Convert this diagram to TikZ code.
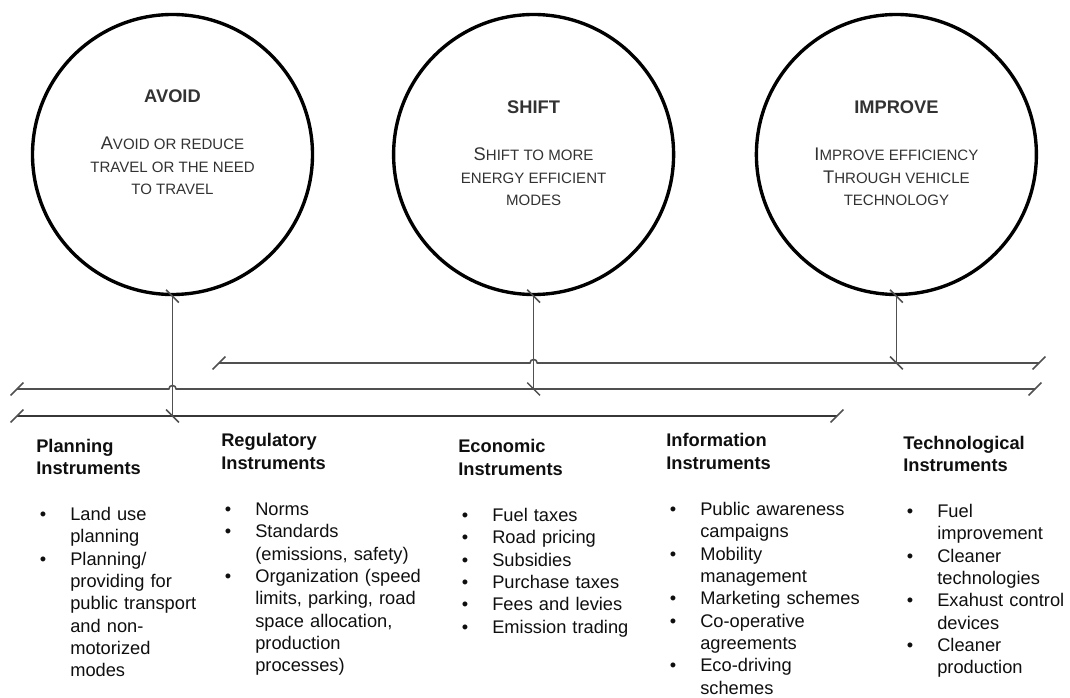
\documentclass[tikz,border=0pt]{standalone}
\usepackage{fontspec}
\setmainfont{Liberation Sans}
\definecolor{RingColor}{RGB}{0,0,0}
\definecolor{RailColor}{RGB}{80,80,80}
\definecolor{RailDark}{RGB}{55,55,55}
\definecolor{GoalText}{RGB}{50,50,50}
\definecolor{ListText}{RGB}{15,15,15}
\usetikzlibrary{positioning, calc, decorations.markings}
\newcommand{\scap}[1]{{\fontsize{10.7}{16}\selectfont #1}}
\newcommand{\colhead}[2]{\textbf{#1}\\\textbf{#2}\par\vspace{0.59cm}}
\newenvironment{bullets}{\begin{list}{\textbullet}{\setlength{\leftmargin}{0.85cm}\setlength{\labelwidth}{0.76cm}\setlength{\labelsep}{0cm}\setlength{\itemsep}{0pt}\setlength{\parsep}{0pt}\setlength{\topsep}{0pt}\setlength{\partopsep}{0pt}\renewcommand{\makelabel}[1]{##1\hfil}}}{\end{list}}
\tikzstyle{goal} = [circle, draw=RingColor, line width=2.4pt, minimum size=7cm, inner sep=0pt]
\tikzstyle{goaltext} = [align=center, inner sep=0pt, text=GoalText, font=\fontsize{13}{16}\selectfont]
\tikzstyle{tick} = [RailColor, line width=1.1pt]
\tikzstyle{rail} = [draw=RailColor, line width=1.1pt, postaction={decorate}, decoration={markings, mark=at position 0 with {\draw[tick] (-0.16,-0.16) -- (0.16,0.16);}, mark=at position 1 with {\draw[tick] (-0.16,-0.16) -- (0.16,0.16);}}]
\tikzstyle{column} = [anchor=base west, align=left, inner sep=0pt, text=ListText, font=\fontsize{13}{15.9}\selectfont]

\begin{document}
\begin{tikzpicture}
                \useasboundingbox (0,0) rectangle (26.75,17.425);

                % Circles
                \node[goal] (avoid) at (4.3125,13.5625) {};
                \node[goal] (shift) at (13.34,13.5625) {};
                \node[goal] (improve) at (22.41,13.5625) {};

                \node[goaltext] (avoidtxt) at (4.3125,13.86) {\textbf{AVOID}\\[0.61cm]
                    A\scap{VOID OR REDUCE}\\\scap{TRAVEL OR THE NEED}\\\scap{TO TRAVEL}};
                \node[goaltext] (shifttxt) at (13.34,13.59) {\textbf{SHIFT}\\[0.61cm]
                    S\scap{HIFT TO MORE}\\\scap{ENERGY EFFICIENT}\\\scap{MODES}};
                \node[goaltext] (improvetxt) at (22.41,13.59) {\textbf{IMPROVE}\\[0.61cm]
                    I\scap{MPROVE EFFICIENCY}\\T\scap{HROUGH VEHICLE}\\\scap{TECHNOLOGY}};

                % Rails
                \coordinate (railAwest) at (5.475,8.35);
                \coordinate (railAeast) at (25.975,8.35);
                \coordinate (railBwest) at (0.425,7.7);
                \coordinate (railBeast) at (25.875,7.7);
                \coordinate (railCwest) at (0.425,7.025);
                \coordinate (railCeast) at (20.925,7.025);

                \draw[rail] (railAwest) -- ($(shift.south |- railAwest)+(-0.09,0)$)
                    arc[start angle=180, end angle=0, radius=0.09] -- (railAeast);
                \draw[rail] (railBwest) -- ($(avoid.south |- railBwest)+(-0.09,0)$)
                    arc[start angle=180, end angle=0, radius=0.09] -- (railBeast);
                \draw[rail, draw=RailDark, line width=1.4pt] (railCwest) -- (railCeast);

                % Links from circles
                \draw[rail] (avoid.south) -- (avoid.south |- railCwest);
                \draw[rail] (shift.south) -- (shift.south |- railBwest);
                \draw[rail] (improve.south) -- (improve.south |- railAwest);

                % Instruments
                \node[column, text width=4.4cm] (plan) at (0.9,6.125) {\colhead{Planning}{Instruments}
                    \begin{bullets}
                    \item Land use\\planning
                    \item Planning/\\providing for\\public transport\\and non-\\motorized\\modes
                    \end{bullets}};
                \node[column, text width=5.6cm] (reg) at (5.525,6.25) {\colhead{Regulatory}{Instruments}
                    \begin{bullets}
                    \item Norms
                    \item Standards\\(emissions, safety)
                    \item Organization (speed\\limits, parking, road\\space allocation,\\production\\processes)
                    \end{bullets}};
                \node[column, text width=5cm] (econ) at (11.45,6.1) {\colhead{Economic}{Instruments}
                    \begin{bullets}
                    \item Fuel taxes
                    \item Road pricing
                    \item Subsidies
                    \item Purchase taxes
                    \item Fees and levies
                    \item Emission trading
                    \end{bullets}};
                \node[column, text width=5.5cm] (info) at (16.65,6.25) {\colhead{Information}{Instruments}
                    \begin{bullets}
                    \item Public awareness\\campaigns
                    \item Mobility\\management
                    \item Marketing schemes
                    \item Co-operative\\agreements
                    \item Eco-driving\\schemes
                    \end{bullets}};
                \node[column, text width=4.1cm] (tech) at (22.575,6.2) {\colhead{Technological}{Instruments}
                    \begin{bullets}
                    \item Fuel\\improvement
                    \item Cleaner\\technologies
                    \item Exahust control\\devices
                    \item Cleaner\\production
                    \end{bullets}};
            \end{tikzpicture}
\end{document}
